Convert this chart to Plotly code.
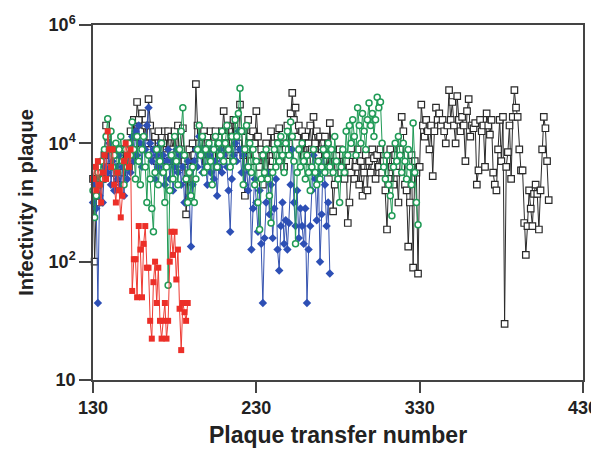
import plotly.graph_objects as go

# Infectivity per plaque transfer, four lineages
black_start = 130
black_values = [
    2.5e3, 1.0e2, 1.0e3, 2.0e3, 1.0e3, 4.0e3, 2.5e3, 6.3e3, 2.0e4, 1.3e4,
    4.0e3, 3.2e3, 7.9e3, 3.2e3, 5.0e3, 2.0e3, 7.9e3, 4.0e3, 3.2e3, 7.9e3,
    5.0e3, 1.0e4, 4.0e3, 1.6e4, 6.3e3, 2.5e4, 1.0e4, 5.0e4, 2.5e4, 1.6e4,
    3.2e4, 7.9e3, 2.0e4, 1.0e4, 5.6e4, 2.0e4, 1.0e4, 6.3e3, 1.3e4, 5.0e3,
    1.6e4, 7.9e3, 4.0e3, 1.0e4, 1.6e4, 6.3e3, 1.6e4, 5.0e3, 1.3e4, 7.9e3,
    1.6e4, 6.3e3, 2.0e4, 4.0e3, 7.9e3, 1.8e4, 5.0e3, 6.3e2, 2.5e3, 7.9e3,
    4.0e3, 1.0e4, 6.3e3, 1.0e5, 2.0e4, 1.0e4, 1.6e4, 7.9e3, 1.6e4, 5.0e3,
    1.3e4, 7.9e3, 1.6e4, 6.3e3, 1.0e4, 1.6e4, 4.0e3, 1.0e4, 5.0e3, 1.6e4,
    3.5e4, 1.3e4, 7.9e3, 2.0e4, 6.3e3, 1.3e4, 2.5e4, 7.9e3, 1.6e4, 1.0e4,
    4.5e4, 1.6e4, 6.3e3, 1.3e3, 7.9e3, 2.5e4, 1.3e4, 5.0e3, 1.6e4, 1.0e4,
    3.5e4, 1.3e4, 4.0e3, 7.9e3, 2.0e3, 6.3e3, 1.0e4, 3.2e3, 7.9e3, 1.6e4,
    5.0e3, 1.0e4, 6.3e3, 1.3e4, 1.8e4, 7.9e3, 1.0e4, 4.0e3, 7.9e3, 2.0e4,
    1.0e4, 3.2e4, 7.1e4, 2.5e4, 4.0e4, 1.3e4, 2.0e4, 7.9e3, 1.6e4, 6.3e3,
    1.3e4, 5.0e3, 1.0e4, 2.0e4, 7.9e3, 2.8e4, 1.0e4, 1.6e4, 6.3e3, 1.3e4,
    7.9e3, 5.0e3, 1.3e4, 6.3e3, 3.2e3, 2.2e4, 6.3e3, 7.1e2, 2.0e3, 6.3e3,
    4.0e3, 7.9e3, 3.2e3, 6.3e3, 2.5e3, 5.0e3, 4.5e2, 1.0e3, 3.2e3, 6.3e3,
    2.5e3, 4.0e3, 7.9e3, 2.0e3, 5.0e3, 1.3e3, 3.2e3, 6.3e3, 1.6e3, 5.0e3,
    3.2e3, 7.9e3, 5.6e3, 2.5e3, 6.3e3, 4.0e3, 7.9e3, 3.2e3, 5.0e3, 1.6e3,
    3.5e2, 2.5e3, 7.9e3, 4.0e3, 2.0e3, 6.3e3, 3.2e3, 1.0e3, 7.9e3, 2.8e4,
    1.6e4, 2.0e3, 1.6e3, 1.8e2, 1.0e3, 6.3e3, 79, 5.0e3, 3.2e3, 63,
    4.0e3, 4.5e4, 2.0e4, 1.3e4, 2.5e4, 1.6e4, 7.9e3, 2.0e4, 2.8e3, 1.6e4,
    4.0e4, 2.5e4, 3.2e4, 2.0e4, 2.5e4, 1.6e4, 1.0e4, 2.0e4, 7.9e4, 2.5e4,
    5.0e4, 2.0e4, 1.0e4, 6.3e4, 2.5e4, 1.6e4, 2.8e4, 2.0e4, 5.0e3, 3.5e4,
    5.6e4, 1.3e4, 2.0e4, 1.8e4, 2.2e4, 2.0e3, 3.5e3, 2.5e4, 1.6e4, 2.0e4,
    4.0e3, 3.2e4, 2.0e4, 1.4e4, 2.5e4, 3.2e3, 2.0e3, 1.6e3, 7.9e3, 2.5e4,
    5.0e3, 2.8e4, 8.9, 4.0e3, 7.1e3, 2.0e4, 2.5e3, 2.8e4, 7.9e4, 4.0e4,
    2.8e4, 7.9e3, 3.5e3, 3.5e3, 4.5e2, 1.3e2, 4.0e2, 1.6e3, 7.9e2, 4.0e2,
    1.4e3, 2.0e3, 1.4e3, 3.5e2, 1.6e3, 7.9e3, 2.8e4, 1.8e4, 5.0e3, 1.1e3,
]

blue_start = 130
blue_values = [
    1.0e3, 2.0e3, 7.9e2, 20, 1.3e3, 2.5e3, 1.0e3, 4.0e3, 7.9e3, 3.2e3,
    1.0e4, 2.0e3, 5.0e3, 1.6e3, 4.0e3, 2.5e3, 6.3e3, 2.0e3, 4.0e3, 1.3e3,
    5.0e3, 2.5e3, 7.9e3, 3.2e3, 1.3e4, 5.0e3, 1.6e4, 6.3e3, 2.0e4, 1.0e4,
    4.0e3, 1.3e4, 7.9e3, 2.0e4, 4.0e4, 1.0e4, 5.0e3, 7.9e3, 2.5e3, 6.3e3,
    4.0e3, 1.0e4, 3.2e3, 6.3e3, 2.0e3, 5.0e3, 7.9e3, 2.5e3, 5.0e3, 1.6e3,
    4.0e3, 7.9e3, 3.2e3, 6.3e3, 2.0e3, 4.0e3, 1.0e3, 2.5e3, 5.0e3, 1.3e3,
    1.8e2, 2.0e3, 5.0e3, 7.9e3, 4.0e3, 1.3e4, 6.3e3, 3.2e3, 7.9e3, 4.0e3,
    2.0e3, 6.3e3, 3.2e3, 7.9e3, 2.5e3, 5.0e3, 1.3e3, 4.0e3, 7.9e3, 3.2e3,
    6.3e3, 1.0e4, 4.0e3, 1.6e3, 3.2e2, 2.5e3, 6.3e3, 1.0e4, 5.0e3, 1.6e4,
    7.9e3, 3.2e3, 6.3e3, 2.0e3, 4.0e3, 1.6e3, 3.2e3, 1.6e2, 7.9e2, 2.5e3,
    1.0e3, 3.2e2, 1.6e3, 2.0e2, 20, 2.5e2, 1.0e3, 3.2e3, 6.3e2, 2.0e3,
    2.5e2, 7.9e2, 2.5e3, 1.6e2, 71, 4.0e2, 1.0e3, 2.0e2, 5.0e2, 1.6e2,
    4.5e2, 2.0e3, 7.9e3, 1.0e3, 4.0e2, 1.6e3, 2.5e2, 7.9e2, 4.0e2, 2.0e2,
    7.9e2, 20, 1.6e2, 4.0e2, 1.6e3, 6.3e3, 2.5e3, 5.0e2, 3.2e3, 1.0e2,
    6.3e2, 7.9e3, 2.0e3, 4.0e2, 1.0e3, 63,
]

green_start = 130
green_values = [
    1.6e3, 5.6e2, 1.3e3, 3.2e3, 2.0e3, 5.0e3, 2.5e3, 7.9e3, 1.3e4, 2.6e4,
    7.9e3, 1.6e4, 4.0e3, 6.3e3, 1.0e4, 3.2e3, 7.9e3, 1.3e4, 5.0e3, 2.0e3,
    7.9e3, 4.0e3, 1.0e4, 6.3e3, 2.3e4, 7.9e3, 2.5e3, 1.3e4, 5.0e3, 2.0e3,
    7.9e3, 1.3e4, 4.0e3, 1.0e3, 6.3e3, 2.5e3, 7.9e2, 3.2e2, 3.2e3, 7.9e3,
    2.0e3, 5.0e3, 1.0e4, 3.2e3, 1.0e3, 4.0e3, 40, 1.6e3, 6.3e3, 2.5e3,
    1.3e4, 5.0e3, 2.0e3, 7.9e3, 1.6e4, 4.0e4, 6.3e3, 2.5e3, 1.0e3, 3.2e3,
    1.3e3, 4.0e3, 1.0e3, 2.5e3, 7.9e3, 2.0e4, 6.3e3, 1.3e4, 3.2e3, 7.9e3,
    4.0e3, 1.0e4, 5.0e3, 2.0e3, 7.9e3, 1.3e4, 4.0e3, 1.0e4, 6.3e3, 1.6e4,
    5.0e3, 1.0e4, 2.0e4, 7.9e3, 4.0e3, 1.3e4, 5.0e3, 2.5e4, 1.3e4, 3.2e4,
    8.5e4, 1.6e4, 2.0e3, 7.9e3, 2.0e4, 4.0e3, 1.0e4, 3.2e3, 7.9e3, 2.0e3,
    5.0e3, 1.0e3, 3.5e2, 2.5e3, 6.3e3, 3.2e3, 7.9e3, 2.5e3, 1.3e3, 4.5e2,
    3.2e3, 7.9e3, 4.0e3, 1.0e4, 5.0e3, 1.3e4, 6.3e3, 3.2e3, 1.0e4, 1.6e4,
    6.3e3, 2.3e4, 1.3e4, 5.0e3, 2.0e2, 3.2e3, 7.9e3, 4.0e3, 1.0e4, 5.0e3,
    2.5e3, 6.3e3, 3.2e3, 1.6e3, 4.0e3, 7.9e3, 3.2e3, 2.0e3, 5.0e3, 2.5e3,
    4.0e3, 7.9e3, 3.2e3, 6.3e3, 1.0e4, 4.0e3, 7.9e3, 3.2e3, 1.3e4, 5.0e3,
    2.5e3, 1.0e3, 4.0e3, 7.9e3, 3.2e3, 1.6e4, 6.3e3, 2.0e4, 1.0e4, 2.5e4,
    1.3e4, 6.3e3, 4.0e4, 2.0e4, 1.0e4, 3.2e4, 1.6e4, 7.9e3, 2.5e4, 4.8e4,
    2.0e4, 3.2e4, 1.3e4, 2.5e4, 6.0e4, 4.0e4, 5.0e4, 1.0e4, 4.0e3, 2.5e3,
    6.3e3, 2.0e3, 1.3e3, 6.0e2, 4.0e3, 1.0e4, 5.0e3, 1.3e4, 6.3e3, 3.2e3,
    1.0e4, 5.0e3, 2.5e3, 7.9e3, 4.0e3, 2.0e3, 2.2e4, 3.2e3, 1.0e3, 4.2e2,
]

red_start = 130
red_values = [
    2.5e3, 4.0e3, 1.6e3, 5.0e3, 2.0e3, 1.0e3, 3.2e3, 6.3e3, 2.5e3, 1.6e4,
    7.9e3, 4.0e3, 7.9e3, 2.0e3, 1.0e3, 3.2e3, 1.6e3, 5.6e2, 1.3e3, 5.0e3,
    1.0e4, 6.3e3, 4.0e3, 7.9e3, 32, 1.1e2, 1.1e2, 25, 4.0e2, 1.6e2,
    25, 2.0e2, 4.0e2, 79, 79, 10, 5.0, 45, 1.0e2, 20,
    79, 10, 5.0, 10, 20, 5.0, 10, 1.0e2, 3.2e2, 1.3e2,
    3.2e2, 50, 1.6e2, 16, 3.2, 20, 14, 10, 20,
]

x_ticks = [130, 230, 330, 430]
y_ticks = [1, 100, 1e4, 1e6]
y_tick_labels = ["10", "10<sup>2</sup>", "10<sup>4</sup>", "10<sup>6</sup>"]

series = [
    (black_start, black_values, "#2a2a2a", dict(symbol="square", color="white", size=6.5,
                                                  line=dict(color="#2a2a2a", width=1.2))),
    (blue_start, blue_values, "#3553b0", dict(symbol="diamond", color="#2d4fb5", size=6.5,
                                                line=dict(width=0))),
    (green_start, green_values, "#1f9a55", dict(symbol="circle", color="white", size=6,
                                                  line=dict(color="#1f9a55", width=1.5))),
    (red_start, red_values, "#ee3b33", dict(symbol="square", color="#ec2f28", size=6,
                                              line=dict(width=0))),
]

fig = go.Figure()
for start, vals, lcol, mk in series:
    xs = list(range(start, start + len(vals)))
    fig.add_trace(go.Scatter(
        x=xs, y=vals, mode="lines+markers",
        line=dict(color=lcol, width=1),
        marker=mk, cliponaxis=False, showlegend=False,
    ))

font_family = "Liberation Sans, Arial, sans-serif"
# page body keeps an 8px default margin, so the figure is sized to fit inside it
fig.update_layout(
    width=591, height=448,
    margin=dict(l=85, r=16, t=17, b=76),
    paper_bgcolor="white", plot_bgcolor="white",
    font=dict(family=font_family, color="#222"),
)
fig.update_xaxes(
    range=[130, 430], tickvals=x_ticks, ticktext=[str(v) for v in x_ticks],
    automargin=False,
    showgrid=False, zeroline=False,
    showline=True, linecolor="#444", linewidth=1.5, mirror=True,
    ticks="outside", ticklen=11, tickwidth=1.5, tickcolor="#444",
    tickfont=dict(family=font_family, size=18, weight="bold", color="#222"),
    title=dict(text="Plaque transfer number", standoff=10,
               font=dict(family=font_family, size=23, weight="bold", color="#222")),
)
fig.update_yaxes(
    type="log", range=[0, 6], tickvals=y_ticks, ticktext=y_tick_labels,
    automargin=False,
    showgrid=False, zeroline=False,
    showline=True, linecolor="#444", linewidth=1.5, mirror=True,
    ticks="outside", ticklen=12, tickwidth=1.5, tickcolor="#444",
    tickfont=dict(family=font_family, size=18, weight="bold", color="#222"),
    title=dict(text="Infectivity in plaque", standoff=10,
               font=dict(family=font_family, size=20, weight="bold", color="#222")),
)

fig.write_html("out.html")
